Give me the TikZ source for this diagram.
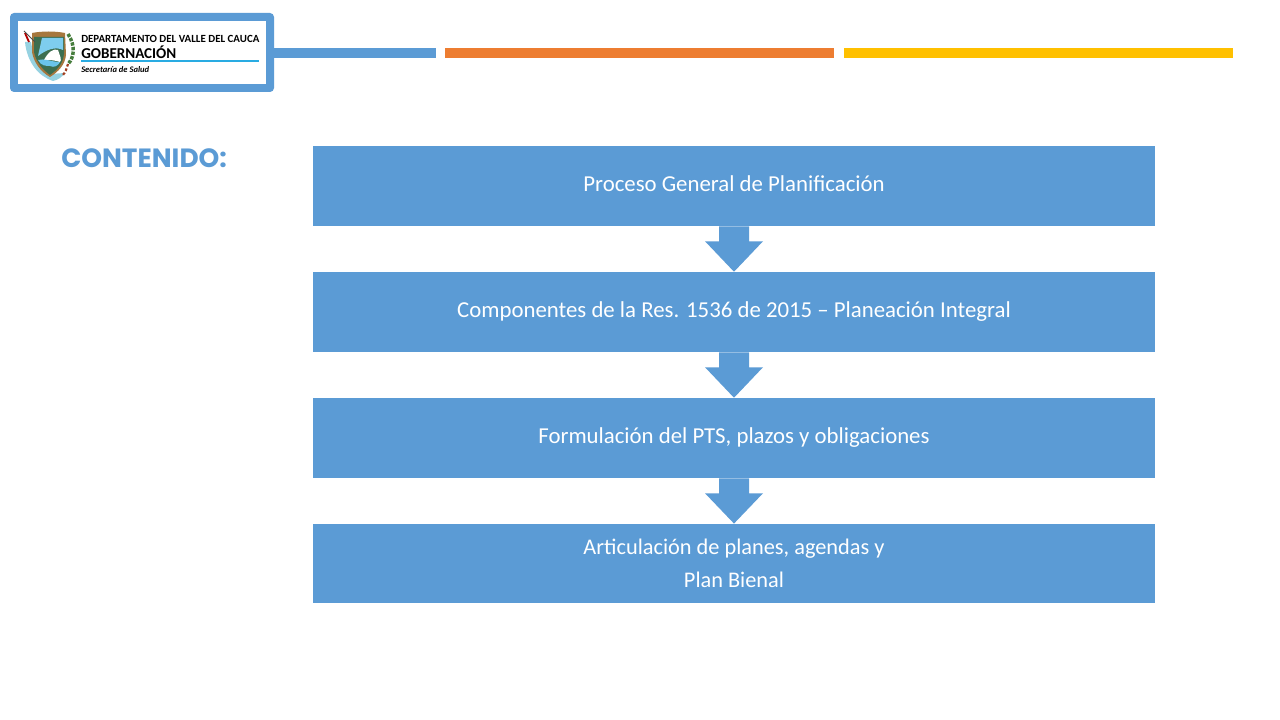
\documentclass[tikz,border=0pt]{standalone}
\usepackage{fontspec}
\setmainfont{Carlito}
\newfontfamily\titlefont{Poppins}
\usetikzlibrary{calc}
\definecolor{BoxClr}{RGB}{91,155,213}
\definecolor{BarOneClr}{RGB}{237,125,49}
\definecolor{BarTwoClr}{RGB}{255,192,0}
\definecolor{LineClr}{RGB}{41,171,226}
\definecolor{WaveClr}{RGB}{150,210,225}
\definecolor{SealClr}{RGB}{60,110,80}
\definecolor{LeafClr}{RGB}{70,125,60}

\begin{document}
\begin{tikzpicture}[x=.75pt,y=-.75pt,
  StepBox/.style={fill=BoxClr,text=white,minimum width=631.5pt,minimum height=60pt,
    inner sep=0pt,align=center,font=\fontsize{17.1}{24.75}\selectfont},
  OneLine/.style={text height=12pt,text depth=3.8pt},
  BarLine/.style={minimum height=7.5pt,inner sep=0pt,anchor=west},
  LogoText/.style={anchor=west,inner sep=0pt,text=black}]
\useasboundingbox (0,0) rectangle (1280,720);

% header
\fill[white] (0,0) rectangle (1280,720);
\node[BarLine,fill=BoxClr,minimum width=121.5pt] (barA) at (274,53) {};
\node[BarLine,fill=BarOneClr,minimum width=291.75pt] (barB) at (445,53) {};
\node[BarLine,fill=BarTwoClr,minimum width=291.75pt] (barC) at (844,53) {};

% logo
\fill[BoxClr,rounded corners=3pt] (10,13) rectangle (274,92);
\fill[white] (18,21) rectangle (266,84);
\fill[WaveClr] (25,42) .. controls (27,62) and (38,76) .. (53,81) .. controls (58,80) and (62,77) .. (65,73) -- (50,74) .. controls (40,68) and (33,56) .. (31,42) -- cycle;
\fill[BarOneClr!60!SealClr] (32,33) .. controls (42,31) and (55,31) .. (65,33) -- (66,55) .. controls (65,65) and (58,72) .. (50,77) .. controls (41,72) and (34,63) .. (32,52) -- cycle;
\fill[SealClr] (34,37) -- (64,37) -- (64,54) .. controls (63,64) and (57,70) .. (50,75) .. controls (43,70) and (36,62) .. (34,52) -- cycle;
\fill[LineClr!60!white] (42,38) -- (63,38) -- (63,50) .. controls (55,46) and (46,50) .. (38,56) -- cycle;
\fill[white] (44,60) .. controls (48,52) and (54,48) .. (58,50) .. controls (60,56) and (62,60) .. (60,62) .. controls (54,60) and (50,60) .. (44,60) -- cycle;
\fill[LineClr!70!white] (38,60) .. controls (44,58) and (52,62) .. (60,62) .. controls (58,66) and (54,68) .. (50,66) .. controls (46,66) and (41,66) .. (38,60) -- cycle;
\draw[red!70!black,line width=1.4pt] (25,33) -- (29,42);
\draw[black!70,line width=.6pt] (24,31) -- (35,42);
\draw[LeafClr,line width=2.6pt,dash pattern=on 2.5pt off 1pt] (68,34) .. controls (76,46) and (74,58) .. (68,64);
\draw[red!50!LeafClr,line width=1.6pt,dash pattern=on 2pt off 1.5pt] (68,64) .. controls (66,70) and (66,72) .. (62,76);
\node[LogoText,font=\bfseries\fontsize{8.2}{9}\selectfont] (dept) at (81,39) {DEPARTAMENTO DEL VALLE DEL CAUCA};
\node[LogoText,font=\bfseries\fontsize{11.3}{12}\selectfont] (gob) at (81,52) {GOBERNACIÓN};
\node[LogoText,font=\bfseries\itshape\fontsize{6.4}{7}\selectfont] (secr) at (81,70) {Secretaría de Salud};
\draw[LineClr,line width=.9pt] (81,61) -- (259,61);

\node[anchor=west,inner sep=0pt,text=BoxClr,font=\titlefont\bfseries\fontsize{19.8}{22}\selectfont] (title) at (61,158) {CONTENIDO:};

% steps
\node[StepBox,OneLine] (plan) at (734,186) {Proceso General de Planificación};
\node[StepBox,OneLine] (comp) at (734,312) {Componentes de la Res. 1536 de 2015 -- Planeación Integral};
\node[StepBox,OneLine] (form) at (734,438) {Formulación del PTS, plazos y obligaciones};
\node[StepBox,minimum height=59.5pt,font=\fontsize{16.75}{24.75}\selectfont] (artic) at (734,563.5) {Articulación de planes, agendas y\\Plan Bienal};

% arrows
\foreach \src/\dst in {plan/comp,comp/form,form/artic}{
  \fill[BoxClr] ($(\src.south)+(-15,0)$) -- ++(0,15) -- ++(-14,0) -- (\dst.north)
    -- ($(\src.south)+(29,15)$) -- ++(-14,0) -- ($(\src.south)+(15,0)$) -- cycle;
}
\end{tikzpicture}
\end{document}
